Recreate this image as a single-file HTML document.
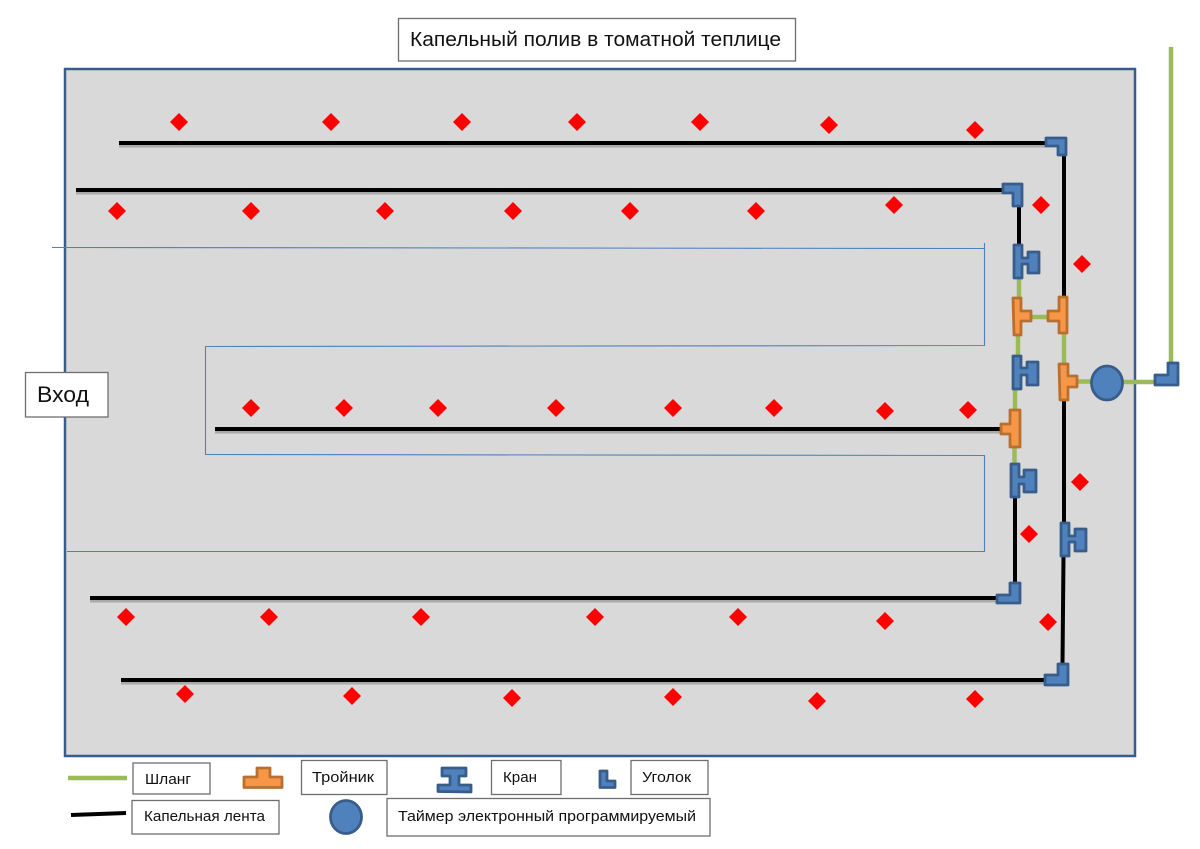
<!DOCTYPE html>
<html>
<head>
<meta charset="utf-8">
<style>
html,body{margin:0;padding:0;background:#fff;width:1200px;height:849px;overflow:hidden}
svg{display:block;filter:blur(.35px)}
text{font-family:"Liberation Sans",sans-serif;fill:#111}
.box{fill:#fff;stroke:#6e6e6e;stroke-width:1.3}
.bl{fill:#4f81bd;stroke:#385d8a;stroke-width:2.800;stroke-linejoin:round}
.or{fill:#f79646;stroke:#b9702f;stroke-width:2.800;stroke-linejoin:round}
.k{stroke:#000;stroke-width:4;fill:none}
.s{stroke:#000;stroke-opacity:.22;stroke-width:4;fill:none}
.g{stroke:#9bbb59;stroke-width:4.500;fill:none}
.d{fill:#f00}
</style>
</head>
<body>
<svg width="1200" height="849" viewBox="0 0 1200 849" xmlns="http://www.w3.org/2000/svg">
<rect x="65" y="69" width="1070" height="687" fill="#d9d9d9" stroke="#385d8a" stroke-width="2.500"/>

<!-- thin blue path -->
<polyline points="52,247.500 984.500,248.500 984.500,345.500 205.500,346.500 205.500,454.500 984.500,455.500 984.500,551.500 67,551.500" fill="none" stroke="#4f81bd" stroke-width="1.100"/>
<line x1="984.500" y1="243" x2="984.500" y2="249" stroke="#4f81bd" stroke-width="1.100"/>

<!-- shadows -->
<g class="s">
<line x1="119" y1="145.500" x2="1046" y2="145.500"/>
<line x1="76" y1="192.500" x2="1002" y2="192.500"/>
<line x1="215" y1="431.500" x2="1000" y2="431.500"/>
<line x1="90" y1="600.500" x2="996" y2="600.500"/>
<line x1="121" y1="682.500" x2="1044" y2="682.500"/>
</g>

<!-- black lines -->
<g class="k">
<line x1="119" y1="143" x2="1046" y2="143"/>
<line x1="76" y1="190" x2="1003" y2="190"/>
<line x1="215" y1="429" x2="1001" y2="429"/>
<line x1="90" y1="598" x2="997" y2="598"/>
<line x1="121" y1="680" x2="1045" y2="680"/>
<line x1="1064" y1="156" x2="1064" y2="297"/>
<line x1="1019" y1="207" x2="1019" y2="245"/>
<line x1="1064" y1="400" x2="1064" y2="523"/>
<line x1="1015" y1="497" x2="1015" y2="583"/>
<line x1="1063.500" y1="556" x2="1062.500" y2="664"/>
</g>

<!-- green lines -->
<g class="g">
<line x1="1019" y1="279" x2="1019" y2="298"/>
<line x1="1064" y1="333" x2="1064" y2="364"/>
<line x1="1018" y1="335" x2="1018" y2="356"/>
<line x1="1015" y1="389" x2="1015" y2="410"/>
<line x1="1014.500" y1="447" x2="1014.500" y2="464"/>
<line x1="1032" y1="317" x2="1048" y2="317"/>
<line x1="1078" y1="381.500" x2="1093" y2="381.500"/>
<line x1="1121" y1="382" x2="1155" y2="382"/>
<line x1="1171" y1="47" x2="1171" y2="363"/>
</g>

<!-- elbows -->
<g class="bl">
<polygon points="1046,138 1066,138 1066,155 1058,155 1058,146 1046,146"/>
<polygon points="1003,184 1022,184 1022,206 1013,206 1013,193 1003,193"/>
<polygon points="997,603 1020,603 1020,583 1010,583 1010,595 997,595"/>
<polygon points="1045,685 1068,685 1068,664 1058,664 1058,675 1045,675"/>
<polygon points="1155,385 1178,385 1178,363 1168,363 1168,375 1155,375"/>
<!-- valves -->
<polygon points="1014,245 1022,245 1022,258 1028,258 1028,252 1039,252 1039,273 1028,273 1028,264 1022,264 1022,278 1014,278"/>
<polygon points="1013,356 1021,356 1021,368 1027,368 1027,362 1038,362 1038,385 1027,385 1027,375 1021,375 1021,389 1013,389"/>
<polygon points="1011,464 1019,464 1019,477 1024,477 1024,470 1036,470 1036,492 1024,492 1024,484 1019,484 1019,497 1011,497"/>
<polygon points="1061,523 1069,523 1069,536 1075,536 1075,529 1086,529 1086,551 1075,551 1075,542 1069,542 1069,556 1061,556"/>
</g>

<!-- tees -->
<g class="or">
<polygon points="1013,298 1021,298 1021,311 1031,311 1031,321 1021,321 1021,335 1014,335"/>
<polygon points="1059,297 1067,297 1067,333 1059,333 1059,321 1048,321 1048,311 1059,311"/>
<polygon points="1059,364 1068,364 1068,376 1077,376 1077,387 1068,387 1068,400 1060,400"/>
<polygon points="1010,424 1010,410 1020,410 1020,447 1010,447 1010,434 1001,434 1001,424"/>
</g>

<ellipse cx="1107" cy="383" rx="15.500" ry="17" class="bl"/>

<!-- diamonds -->
<g class="d">
<polygon points="179,113 188,122 179,131 170,122"/>
<polygon points="331,113 340,122 331,131 322,122"/>
<polygon points="462,113 471,122 462,131 453,122"/>
<polygon points="577,113 586,122 577,131 568,122"/>
<polygon points="700,113 709,122 700,131 691,122"/>
<polygon points="829,116 838,125 829,134 820,125"/>
<polygon points="975,121 984,130 975,139 966,130"/>
<polygon points="117,202 126,211 117,220 108,211"/>
<polygon points="251,202 260,211 251,220 242,211"/>
<polygon points="385,202 394,211 385,220 376,211"/>
<polygon points="513,202 522,211 513,220 504,211"/>
<polygon points="630,202 639,211 630,220 621,211"/>
<polygon points="756,202 765,211 756,220 747,211"/>
<polygon points="894,196 903,205 894,214 885,205"/>
<polygon points="1041,196 1050,205 1041,214 1032,205"/>
<polygon points="1082,255 1091,264 1082,273 1073,264"/>
<polygon points="251,399 260,408 251,417 242,408"/>
<polygon points="344,399 353,408 344,417 335,408"/>
<polygon points="438,399 447,408 438,417 429,408"/>
<polygon points="556,399 565,408 556,417 547,408"/>
<polygon points="673,399 682,408 673,417 664,408"/>
<polygon points="774,399 783,408 774,417 765,408"/>
<polygon points="885,402 894,411 885,420 876,411"/>
<polygon points="968,401 977,410 968,419 959,410"/>
<polygon points="1080,473 1089,482 1080,491 1071,482"/>
<polygon points="1029,525 1038,534 1029,543 1020,534"/>
<polygon points="126,608 135,617 126,626 117,617"/>
<polygon points="269,608 278,617 269,626 260,617"/>
<polygon points="421,608 430,617 421,626 412,617"/>
<polygon points="595,608 604,617 595,626 586,617"/>
<polygon points="738,608 747,617 738,626 729,617"/>
<polygon points="885,612 894,621 885,630 876,621"/>
<polygon points="1048,613 1057,622 1048,631 1039,622"/>
<polygon points="185,685 194,694 185,703 176,694"/>
<polygon points="352,687 361,696 352,705 343,696"/>
<polygon points="512,689 521,698 512,707 503,698"/>
<polygon points="673,688 682,697 673,706 664,697"/>
<polygon points="817,692 826,701 817,710 808,701"/>
<polygon points="975,690 984,699 975,708 966,699"/>
</g>

<!-- title -->
<rect x="398.500" y="18.500" width="397" height="42.500" class="box"/>
<text x="410" y="46" font-size="20" textLength="371" lengthAdjust="spacingAndGlyphs">Капельный полив в томатной теплице</text>

<!-- entrance -->
<rect x="25.500" y="372.500" width="82.500" height="44.500" class="box"/>
<text x="37" y="402" font-size="22" textLength="52" lengthAdjust="spacingAndGlyphs">Вход</text>

<!-- legend -->
<line x1="68" y1="778" x2="127" y2="778" stroke="#9bbb59" stroke-width="4.500"/>
<rect x="133" y="763" width="77" height="31" class="box"/>
<text x="145" y="784" font-size="15" textLength="46" lengthAdjust="spacingAndGlyphs">Шланг</text>

<polygon points="244,777 257,777 257,768 270,768 270,777 282,777 282,787.500 244,787.500" class="or"/>
<rect x="301.500" y="760.500" width="85.500" height="34" class="box"/>
<text x="312" y="782" font-size="15" textLength="62" lengthAdjust="spacingAndGlyphs">Тройник</text>

<line x1="71" y1="815" x2="126" y2="813" stroke="#000" stroke-width="4"/>
<rect x="132" y="800.500" width="147" height="33.500" class="box"/>
<text x="144" y="821" font-size="15" textLength="121" lengthAdjust="spacingAndGlyphs">Капельная лента</text>

<ellipse cx="346" cy="817" rx="15.500" ry="16.500" class="bl"/>

<polygon points="442,768 466,768 466,776 459,776 459,785 471,785 471,792 438,791.500 438,785 450,785 450,776 442,776" class="bl"/>
<rect x="491.500" y="760.500" width="69.500" height="34" class="box"/>
<text x="503" y="782" font-size="15" textLength="34" lengthAdjust="spacingAndGlyphs">Кран</text>

<polygon points="600,771 607,771 607,781 615,781 615,787.500 600,787.500" class="bl"/>
<rect x="631" y="760.500" width="77" height="34" class="box"/>
<text x="642" y="782" font-size="15" textLength="49" lengthAdjust="spacingAndGlyphs">Уголок</text>

<rect x="387" y="798.500" width="323" height="37.500" class="box"/>
<text x="398" y="821" font-size="15" textLength="298" lengthAdjust="spacingAndGlyphs">Таймер электронный программируемый</text>
</svg>
</body>
</html>
